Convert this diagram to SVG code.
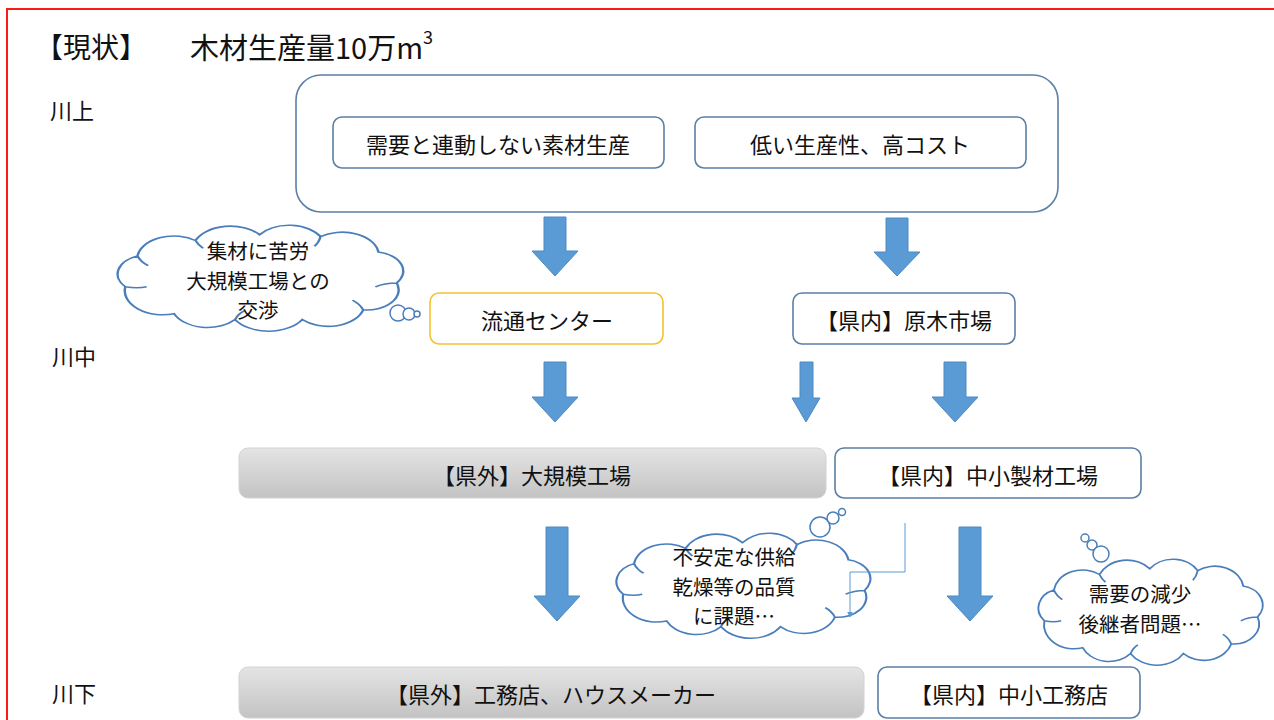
<svg xmlns="http://www.w3.org/2000/svg" xmlns:xlink="http://www.w3.org/1999/xlink" width="1274" height="720" viewBox="0 0 1274 720">
<defs>
<style>
text{font-family:"Noto Sans CJK JP","Noto Sans",sans-serif;fill:#111;}
.t{font-size:22px;text-anchor:middle;dominant-baseline:central;}
.c{font-size:20.5px;text-anchor:middle;dominant-baseline:central;}
.lab{font-size:22px;dominant-baseline:central;}
.box{fill:#fff;stroke:#5b7fa6;stroke-width:1.6;}
.gold{fill:#fff;stroke:#f2c230;stroke-width:1.6;}
.gray{fill:url(#g);stroke:#d2d2d2;stroke-width:1;}
.arr{fill:#5b9bd5;stroke:#4f89c2;stroke-width:1;}
.cloud{fill:#fff;stroke:#4a7ebb;stroke-width:1.6;vector-effect:non-scaling-stroke;}
.bub{fill:#fff;stroke:#4a7ebb;stroke-width:1.5;}
</style>
<linearGradient id="g" x1="0" y1="0" x2="0" y2="1">
<stop offset="0" stop-color="#e4e4e4"/>
<stop offset="1" stop-color="#c3c3c3"/>
</linearGradient>
<path id="cloud" d="M12,62 A20,20 0 0 1 20,30 A24,24 0 0 1 58,14 A25,25 0 0 1 100,8 A24,24 0 0 1 140,10 A24,24 0 0 1 178,26 A20,20 0 0 1 190,58 A21,21 0 0 1 168,86 A24,24 0 0 1 128,96 A26,26 0 0 1 84,96 A24,24 0 0 1 44,90 A25,25 0 0 1 12,62 Z M20,30 Q22,36 27,40 M58,14 Q60,19 63,22 M140,10 Q139,16 136,20 M190,58 Q182,58 176,62 M168,86 Q166,80 161,76 M84,96 Q86,90 90,87 M12,62 Q20,64 26,62"/>
<marker id="ah" viewBox="0 0 10 10" refX="9" refY="5" markerWidth="6" markerHeight="6" orient="auto">
<path d="M0,0 L10,5 L0,10 Z" fill="#5b9bd5"/>
</marker>
</defs>
<rect width="1274" height="720" fill="#fff"/>
<rect x="7" y="9" width="1320" height="800" fill="none" stroke="#ff1a1a" stroke-width="2"/>

<g id="title">
<text x="35" y="46" style="font-size:28px;dominant-baseline:central;">【現状】</text>
<text x="190" y="46" style="font-size:29px;dominant-baseline:central;">木材生産量10万m<tspan dy="-10" style="font-size:18px;">3</tspan></text>
</g>
<g id="stage-labels">
<text class="lab" x="50" y="109">川上</text>
<text class="lab" x="52" y="355">川中</text>
<text class="lab" x="52" y="692">川下</text>
</g>

<g id="upstream">
<rect class="box" x="296" y="75" width="762" height="137" rx="25"/>
</g>
<g id="n-demand">
<rect class="box" x="333" y="117" width="331" height="51" rx="9"/>
<text class="t" x="498" y="143">需要と連動しない素材生産</text>
</g>
<g id="n-lowprod">
<rect class="box" x="695" y="117" width="331" height="51" rx="9"/>
<text class="t" x="860" y="143">低い生産性、高コスト</text>
</g>

<g id="n-center">
<rect class="gold" x="430" y="293" width="233" height="51" rx="9"/>
<text class="t" x="547" y="319">流通センター</text>
</g>
<g id="n-market">
<rect class="box" x="793" y="293" width="222" height="51" rx="9"/>
<text class="t" x="904" y="319">【県内】原木市場</text>
</g>

<g id="n-bigmill">
<rect class="gray" x="239" y="448" width="587" height="50" rx="9"/>
<text class="t" x="532" y="474">【県外】大規模工場</text>
</g>
<g id="n-smallmill">
<rect class="box" x="835" y="448" width="306" height="50" rx="9"/>
<text class="t" x="988" y="474">【県内】中小製材工場</text>
</g>

<g id="n-builders-out">
<rect class="gray" x="239" y="667" width="625" height="51" rx="9"/>
<text class="t" x="551" y="693">【県外】工務店、ハウスメーカー</text>
</g>
<g id="n-builders-in">
<rect class="box" x="878" y="667" width="262" height="51" rx="9"/>
<text class="t" x="1009" y="693">【県内】中小工務店</text>
</g>

<g id="cloud-1">
<use xlink:href="#cloud" class="cloud" transform="translate(107,227) scale(1.525,0.964)"/>
<circle class="bub" cx="398" cy="313" r="8"/>
<circle class="bub" cx="409" cy="314" r="6"/>
<circle class="bub" cx="417" cy="314" r="3"/>
<text class="c" x="258" y="250">集材に苦労<tspan x="258" dy="29.5">大規模工場との</tspan><tspan x="258" dy="29.5">交渉</tspan></text>
</g>

<g id="cloud-2">
<use xlink:href="#cloud" class="cloud" transform="translate(607,535) scale(1.356,0.955)"/>
<circle class="bub" cx="820" cy="527" r="10"/>
<circle class="bub" cx="833" cy="518" r="6"/>
<circle class="bub" cx="842" cy="512" r="3.5"/>
<text class="c" x="734" y="556">不安定な供給<tspan x="734" dy="29.5">乾燥等の品質</tspan><tspan x="734" dy="29.5">に課題…</tspan></text>
</g>

<g id="cloud-3">
<use xlink:href="#cloud" class="cloud" transform="translate(1030,561) scale(1.198,0.964)"/>
<circle class="bub" cx="1085" cy="538" r="4"/>
<circle class="bub" cx="1092" cy="545" r="5"/>
<circle class="bub" cx="1101" cy="554" r="8"/>
<text class="c" x="1140" y="593">需要の減少<tspan x="1140" dy="29.5">後継者問題…</tspan></text>
</g>

<g id="connectors">
<path class="arr" d="M544,217 H566 V251 H578 L555,276 L532,251 H544 Z"/>
<path class="arr" d="M886,218 H908 V252 H920 L897,276 L874,252 H886 Z"/>
<path class="arr" d="M544,362 H566 V397 H578 L555,422 L532,397 H544 Z"/>
<path class="arr" d="M800,362 H813 V398 H820 L806,422 L792,398 H800 Z"/>
<path class="arr" d="M944,362 H966 V397 H978 L955,422 L932,397 H944 Z"/>
<path class="arr" d="M546,527 H568 V596 H580 L557,621 L534,596 H546 Z"/>
<path class="arr" d="M959,527 H981 V596 H993 L970,621 L947,596 H959 Z"/>
<path d="M905,523 V572 H850 V617" fill="none" stroke="#5b9bd5" stroke-width="1" marker-end="url(#ah)"/>
</g>
</svg>
